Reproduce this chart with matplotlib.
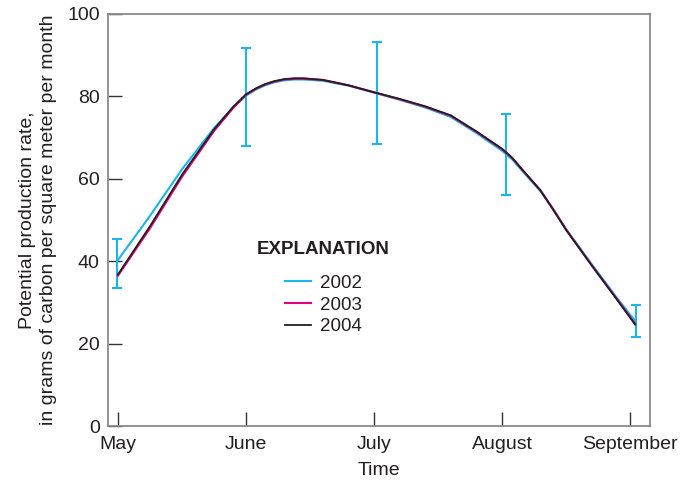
import matplotlib
matplotlib.use("Agg")
import matplotlib.pyplot as plt
import numpy as np

FONT = ['Liberation Sans', 'DejaVu Sans']
plt.rcParams['font.family'] = FONT

months = ["May", "June", "July", "August", "September"]
month_pos = [0, 1, 2, 3, 4]

t = [0.0, 0.25, 0.5, 0.75, 0.9, 1.0, 1.08, 1.15, 1.22, 1.3, 1.38, 1.45, 1.6, 1.8, 2.0, 2.2, 2.4,
     2.6, 2.8, 3.0, 3.08, 3.15, 3.3, 3.4, 3.5, 3.7, 3.9, 4.04]
y2002 = [40.3, 51.0, 62.3, 72.3, 77.3, 80.2, 81.7, 82.7, 83.4, 83.9, 84.1, 84.1, 83.8, 82.6, 80.9,
         79.2, 77.3, 75.0, 71.1, 66.8, 64.7, 62.2, 57.0, 52.6, 47.8, 39.3, 31.0, 25.5]
y2003 = [36.5, 48.0, 60.5, 71.6, 77.2, 80.4, 81.9, 82.9, 83.6, 84.1, 84.3, 84.3, 84.0, 82.7, 81.0,
         79.3, 77.5, 75.3, 71.4, 67.2, 65.0, 62.5, 57.2, 52.6, 47.7, 39.0, 30.7, 24.8]
y2004 = [36.8, 48.5, 61.0, 72.0, 77.5, 80.5, 82.0, 83.0, 83.7, 84.2, 84.4, 84.4, 84.0, 82.7, 81.0,
         79.4, 77.6, 75.4, 71.5, 67.3, 65.1, 62.5, 57.2, 52.5, 47.6, 39.0, 30.6, 24.6]

err_x = [-0.01, 1.0, 2.02, 3.03, 4.05]
err_lo = [33.4, 68.0, 68.4, 56.1, 21.7]
err_hi = [45.3, 91.7, 93.1, 75.7, 29.4]

c2002 = "#1cb4ec"
c2003 = "#e5007d"
c2004 = "#231f20"

fig = plt.figure(figsize=(6.81, 4.86), dpi=100)
ax = fig.add_axes([108/681, 1-426/486, (650-108)/681, (426-14)/486])

lo = np.array(err_lo); hi = np.array(err_hi)
mid = (lo + hi) / 2
ax.errorbar(err_x, mid, yerr=[mid - lo, hi - mid], fmt='none', ecolor=c2002,
            elinewidth=1.5, capsize=3.8, capthick=1.5, zorder=2)

l1, = ax.plot(t, y2002, color=c2002, lw=1.5, label="2002", zorder=3, solid_joinstyle='round')
l2, = ax.plot(t, y2003, color=c2003, lw=1.5, label="2003", zorder=4, solid_joinstyle='round')
l3, = ax.plot(t, y2004, color=c2004, lw=1.3, label="2004", zorder=5, solid_joinstyle='round')

ax.set_xlim(-0.078, 4.156)
ax.set_ylim(0, 100)
ax.set_xticks(month_pos)
ax.set_xticklabels(months)
ax.set_yticks([0, 20, 40, 60, 80, 100])

for s in ax.spines.values():
    s.set_color("#8a8a8a")
    s.set_linewidth(1.3)

ax.tick_params(axis='both', direction='in', length=10, width=1.0, color="#333333",
               labelsize=14, labelcolor="#231f20", pad=7)
ax.tick_params(axis='y', pad=6)

ax.set_xlabel("Time", fontsize=14, color="#231f20", labelpad=7)
ax.set_ylabel("Potential production rate,\nin grams of carbon per square meter per month",
              fontsize=14, color="#231f20", labelpad=7, linespacing=1.35)

leg = ax.legend(handles=[l1, l2, l3], title="EXPLANATION", loc='upper left',
                bbox_to_anchor=(0.258, 0.472), frameon=False, fontsize=13.5,
                borderpad=0, labelspacing=0.25, handlelength=1.4, handletextpad=0.5,
                title_fontproperties={'weight': 'bold', 'size': 13.5, 'family': FONT})
leg._legend_box.sep = 12
for txt in leg.get_texts():
    txt.set_color("#231f20")
leg.get_title().set_color("#231f20")

fig.savefig("out.png", dpi=100)
